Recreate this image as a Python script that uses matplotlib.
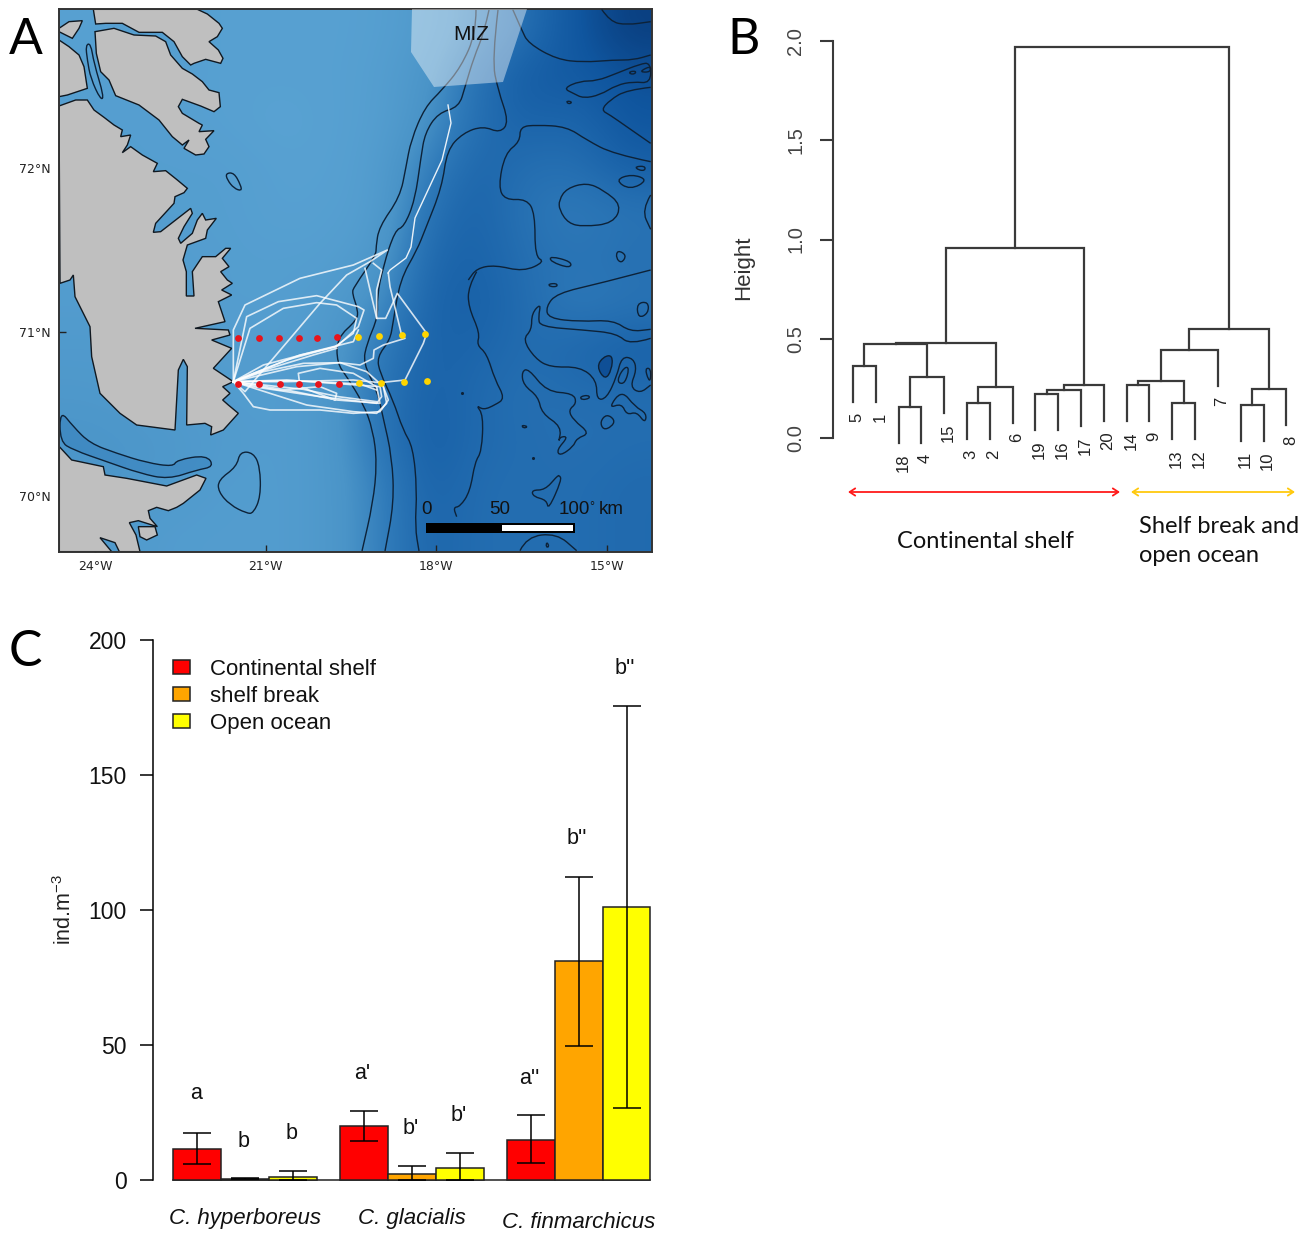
import numpy as np
import matplotlib
matplotlib.use('Agg')
import matplotlib.pyplot as plt
from matplotlib.colors import LinearSegmentedColormap
from matplotlib.patches import Polygon, Rectangle, PathPatch, FancyArrowPatch
from matplotlib.path import Path

W, H = 1315, 1233
plt.rcParams['font.family'] = ['Liberation Sans', 'DejaVu Sans']
plt.rcParams['mathtext.default'] = 'regular'

# ---- panel C values ----
species = ['C. hyperboreus', 'C. glacialis', 'C. finmarchicus']
regions = ['Continental shelf', 'shelf break', 'Open ocean']
region_colors = ['#ff0000', '#ffa500', '#ffff00']
shelf_mean = [11.6, 20.0, 15.0]
shelf_low = [5.9, 14.5, 6.4]
shelf_high = [17.5, 25.6, 23.9]
break_mean = [0.5, 2.3, 81.0]
break_low = [0.3, 0.0, 49.8]
break_high = [0.6, 5.2, 112.4]
ocean_mean = [1.2, 4.6, 101.0]
ocean_low = [0.0, 0.0, 26.6]
ocean_high = [3.3, 10.1, 175.4]
sig_letters = ['a', 'b', 'b', "a'", "b'", "b'", "a''", "b''", "b''"]
sig_heights = [32.0, 14.3, 17.3, 39.3, 19.0, 23.9, 37.7, 126.6, 189.3]

# ---- panel B values: hclust style merge table, negative = leaf ----
leaf_order = [5, 1, 18, 4, 15, 3, 2, 6, 19, 16, 17, 20, 14, 9, 13, 12, 7, 11, 10, 8]
merge_a = [-5, -18, 2, 1, -3, 5, 4, -19, 8, 9, 7, -14, -13, 12, 14, -11, 16, 15, 11]
merge_b = [-1, -4, -15, 3, -2, -6, 6, -16, -17, -20, 10, -9, -12, 13, -7, -10, -8, 17, 18]
merge_h = [0.362, 0.155, 0.306, 0.475, 0.175, 0.259, 0.480, 0.224, 0.244, 0.266,
           0.956, 0.266, 0.175, 0.286, 0.444, 0.168, 0.246, 0.547, 1.968]
leaf_drop = 0.182

# ---- panel A: everything below was read off the map, as (x, y) in a crop ----
# crop origin comes first, crops were looked at 3x
depth_levels = [
    [.08, .10, .10, .08, .08, .08, .10, .20, .40, .62, .85, 1.0],
    [.10, .10, .10, .08, .08, .08, .12, .28, .60, .80, .80, .88],
    [.12, .12, .10, .08, .05, .08, .12, .32, .62, .72, .68, .85],
    [.12, .12, .12, .12, .08, .08, .15, .48, .70, .60, .60, .75],
    [.12, .12, .12, .12, .08, .10, .15, .60, .72, .55, .50, .55],
    [.15, .15, .15, .12, .12, .12, .22, .68, .72, .60, .55, .60],
    [.15, .15, .15, .12, .12, .18, .35, .72, .75, .62, .50, .55],
    [.20, .20, .15, .15, .15, .22, .50, .72, .70, .62, .68, .75],
    [.22, .20, .18, .15, .15, .22, .55, .74, .65, .60, .62, .62],
    [.28, .25, .22, .18, .15, .22, .55, .76, .65, .62, .60, .62],
    [.28, .25, .20, .15, .15, .22, .45, .73, .62, .62, .62, .65],
    [.20, .18, .15, .15, .15, .22, .45, .70, .62, .62, .62, .65],
]

CROP_N = (59, 0)
CROP_SW = (40, 270)
CROP_TRACK = (220, 230)
CROP_NE = (440, 0)
CROP_SE = (440, 270)
ORIGIN = (0, 0)

land_n1 = [(103, 28), (415, 28), (445, 42), (480, 70), (490, 85), (475, 110), (450, 125), (478, 150),
           (492, 175), (485, 190), (440, 178), (405, 190), (395, 195), (370, 170), (345, 125), (310, 97),
           (240, 97), (190, 70), (140, 70), (110, 72)]
land_n2 = [(108, 95), (165, 85), (225, 105), (290, 108), (320, 125), (335, 165), (370, 205), (400, 222),
           (430, 245), (450, 270), (480, 278), (484, 320), (465, 335), (425, 318), (370, 298), (358, 320),
           (370, 340), (420, 370), (430, 375), (420, 395), (465, 392), (440, 418), (450, 440), (435, 462),
           (410, 465), (375, 445), (390, 420), (370, 435), (340, 410), (300, 360), (240, 315), (170, 287),
           (150, 240), (125, 215), (112, 160)]
land_w1 = [(0, 85), (30, 65), (70, 62), (60, 85), (40, 115), (20, 105), (0, 95)]
land_w2 = [(0, 120), (30, 140), (60, 165), (75, 200), (85, 265), (55, 275), (25, 285), (0, 290)]
land_main_a = [(0, 318), (50, 300), (85, 300), (105, 330), (135, 352), (165, 375), (190, 390), (185, 410),
               (215, 405), (205, 435), (190, 458), (215, 440), (250, 465), (295, 490), (283, 515), (320, 512),
               (355, 540), (385, 565), (375, 578), (348, 590), (345, 610), (290, 670), (283, 697), (305, 695),
               (395, 625), (400, 640), (375, 680), (358, 715), (365, 730), (400, 700), (415, 660), (430, 640),
               (440, 660), (472, 655), (445, 690), (440, 715), (385, 735), (372, 780), (382, 815), (382, 888),
               (405, 888), (400, 815), (430, 770), (470, 770), (500, 745), (515, 745), (490, 775), (510, 800),
               (485, 815), (505, 840), (520, 850), (488, 870)]
land_main_b = [(575, 75), (535, 95), (555, 155), (465, 175), (565, 180), (570, 195), (515, 210), (575, 235),
               (520, 295), (580, 335), (548, 350), (570, 370), (548, 390), (565, 405), (595, 430), (550, 480),
               (512, 495), (515, 470), (495, 460), (440, 465), (442, 290), (430, 268), (415, 300), (405, 480),
               (290, 465), (240, 430), (180, 370), (155, 260), (150, 170), (105, 80), (100, 15), (90, 30), (60, 40)]
land_south = [(58, 530), (95, 570), (190, 590), (195, 615), (260, 625), (380, 648), (470, 615), (498, 625),
              (480, 660), (430, 700), (410, 712), (385, 722), (350, 712), (325, 722), (330, 745), (352, 770),
              (295, 752), (268, 758), (288, 795), (300, 845), (238, 845), (225, 818), (180, 803), (215, 845), (58, 845)]
land_south_isle = [(295, 770), (345, 770), (352, 795), (320, 810), (300, 800)]

channel_sw = [(60, 420), (100, 470), (150, 520), (230, 550), (320, 578), (400, 590), (410, 570), (500, 555),
              (522, 590), (470, 600), (385, 628), (300, 610), (200, 575), (100, 540), (60, 515)]
shoal_sw = [(600, 545), (640, 548), (660, 590), (662, 680), (640, 730), (620, 730), (570, 705), (535, 665),
            (535, 630), (590, 590)]
isle_n = [(500, 520), (525, 518), (545, 555), (548, 573), (525, 565), (505, 540)]
isle_channel = [(80, 135), (95, 130), (105, 190), (135, 290), (125, 300), (95, 235), (85, 180)]

# shelf break contours, in plain picture pixels
break_a = [(476, 10), (476, 33), (461, 67), (442, 90), (425, 107), (411, 140), (406, 167), (400, 197), (379, 227),
           (376, 247), (376, 255), (354, 287), (352, 293), (358, 310), (357, 320), (337, 338), (337, 363), (347, 377),
           (363, 403), (373, 430), (377, 463), (373, 503), (362, 551)]
break_b = [(489, 10), (484, 33), (474, 57), (465, 87), (459, 107), (438, 113), (425, 133), (421, 157), (415, 200),
           (404, 227), (395, 230), (383, 267), (377, 297), (378, 317), (367, 343), (363, 363), (377, 390), (383, 417),
           (392, 457), (394, 503), (385, 551)]
break_c = [(498, 10), (492, 60), (498, 90), (509, 122), (500, 133), (483, 126), (463, 133), (447, 150), (442, 187),
           (425, 230), (417, 250), (400, 280), (393, 323), (390, 340), (377, 357), (380, 373), (393, 400), (403, 430),
           (413, 447), (417, 490), (415, 527), (419, 551)]

deep_top = [(218, 28), (245, 90), (265, 130), (350, 178), (430, 187), (520, 180), (580, 180), (632, 165)]
deep_corner = [(485, 28), (510, 65), (560, 75), (632, 65)]
tongue = [(370, 265), (420, 243), (470, 243), (530, 220), (600, 192), (632, 188), (632, 250), (580, 245),
          (530, 255), (480, 285), (430, 295), (400, 280)]
deep_mid = [(632, 262), (560, 270), (510, 300), (483, 330), (510, 345), (560, 380), (632, 430)]
big_n = [(632, 485), (520, 462), (440, 420), (380, 380), (290, 375), (240, 380), (240, 425), (195, 460),
         (175, 560), (195, 600), (260, 597), (285, 640), (285, 770), (315, 785), (250, 815), (165, 795),
         (110, 805), (85, 840)]
oval_ne = [(357, 600), (380, 565), (440, 548), (490, 570), (545, 615), (520, 670), (430, 680), (385, 670), (358, 630)]
blob_ne1 = [(525, 540), (575, 522), (625, 540), (570, 570)]
blob_ne2 = [(585, 500), (615, 498), (615, 512), (595, 510)]
blob_ne3 = [(632, 585), (605, 630), (632, 688)]
blob_ne4 = [(532, 750), (560, 765), (545, 790), (528, 775)]
blob_ne5 = [(330, 768), (395, 785), (390, 805), (332, 785)]
blob_ne6 = [(380, 303), (395, 305), (392, 311), (382, 310)]
blob_ne7 = [(568, 215), (588, 213), (585, 222), (570, 222)]
blob_ne8 = [(603, 212), (632, 198), (632, 215), (608, 217)]

long_se = [(110, 5), (85, 50), (85, 110), (120, 190), (110, 225), (140, 250), (165, 330), (195, 385), (165, 405),
           (130, 420), (108, 405), (130, 435), (125, 545), (105, 575), (90, 665), (60, 710), (40, 712), (50, 740)]
fork_a = [(632, 0), (480, 40), (350, 70), (318, 110), (325, 145), (420, 155), (520, 150), (570, 185), (632, 178)]
fork_b = [(632, 205), (570, 225), (530, 190), (430, 180), (300, 170), (295, 140), (303, 100), (275, 130), (275, 180),
          (248, 208), (285, 265), (330, 292), (420, 290), (470, 330), (470, 390), (500, 385), (530, 320), (545, 260),
          (580, 265), (590, 300), (570, 350), (600, 370), (632, 345)]
deep_hole = [(470, 290), (490, 260), (518, 255), (515, 300), (495, 330)]
ridge_se = [(245, 305), (265, 295), (320, 365), (400, 370), (410, 400), (385, 420), (400, 450), (450, 490), (410, 505),
            (400, 530), (360, 558), (350, 540), (385, 500), (360, 500), (355, 520), (365, 470), (305, 430), (295, 380),
            (250, 345)]
blob_se = [
    [(325, 42), (350, 40), (352, 50), (330, 50)],
    [(245, 465), (265, 470), (250, 475)],
    [(420, 380), (445, 375), (450, 385), (425, 390)],
    [(590, 100), (625, 95), (625, 130), (595, 145)],
    [(615, 295), (632, 295), (632, 330), (625, 330)],
    [(535, 320), (555, 290), (568, 295), (555, 340), (535, 340)],
    [(505, 415), (545, 360), (585, 410), (620, 430), (615, 460), (590, 425), (560, 435), (545, 400)],
    [(480, 455), (500, 432), (525, 450), (515, 470), (490, 480)],
    [(358, 615), (365, 630), (325, 720), (320, 690), (280, 680), (275, 660), (315, 660), (350, 620)],
    [(320, 815), (328, 830), (318, 832)],
]
bottom_se = [(240, 842), (260, 800), (350, 790), (410, 842)]
specks_se = [(67, 368), (278, 565)]

miz_zone = [(412, 9), (411, 52), (434, 87), (503, 82), (527, 9)]

north_track = [(448, 105), (451, 123), (442, 160), (415, 218), (411, 247), (406, 258), (390, 270), (388, 273)]
tracks = [
    [(40, 455), (40, 300), (75, 225), (240, 145), (400, 105), (502, 60), (450, 95), (380, 135), (300, 220), (130, 420), (75, 485), (40, 455)],
    [(40, 455), (80, 260), (175, 215), (290, 197), (415, 230), (432, 240), (415, 290), (350, 350), (240, 375), (100, 430), (40, 455)],
    [(40, 455), (90, 295), (190, 235), (290, 218), (350, 225), (410, 265), (400, 310), (345, 350), (200, 390), (40, 455)],
    [(505, 130), (510, 170), (545, 316), (555, 325), (490, 345), (462, 360), (460, 385), (420, 405), (360, 398), (250, 400), (130, 425), (40, 455)],
    [(435, 115), (470, 265), (497, 265), (532, 190), (620, 310), (610, 340), (555, 450), (480, 458), (400, 450), (200, 455), (40, 455)],
    [(460, 100), (485, 120), (470, 180), (470, 265)],
    [(40, 455), (230, 410), (360, 398), (440, 425), (490, 470), (505, 510), (480, 545), (400, 550), (300, 540), (150, 540), (100, 530), (70, 490), (40, 455)],
    [(40, 455), (180, 480), (300, 470), (350, 490), (345, 510), (240, 470), (235, 430), (300, 415), (400, 430), (470, 470), (480, 520), (350, 510), (200, 480), (40, 455)],
    [(40, 455), (200, 450), (480, 470), (485, 500), (470, 520), (300, 500), (100, 470), (40, 455)],
    [(40, 455), (150, 490), (260, 525), (400, 545), (470, 550), (500, 520), (490, 470)],
    [(40, 455), (130, 405), (300, 360), (400, 335), (415, 300)],
    [(40, 455), (150, 415), (280, 375), (350, 355)],
    [(40, 455), (220, 452), (420, 462), (470, 480)],
    [(40, 455), (250, 478), (355, 500), (470, 515)],
]
stations_shelf = [(55, 323), (116, 325), (178, 324), (236, 323), (290, 323), (352, 322),
                  (53, 462), (116, 463), (180, 463), (238, 463), (293, 462), (356, 461)]
stations_ocean = [(415, 321), (477, 319), (545, 316), (614, 313),
                  (418, 460), (482, 458), (551, 455), (620, 452)]


def px_lon(x):
    return -24 + (np.asarray(x, float) - 95) / 56.9


def px_lat(y):
    return 72 - (np.asarray(y, float) - 168) / 164


def crop_pts(origin, pts, scale=3.0):
    pts = np.asarray(pts, float)
    return np.column_stack([px_lon(origin[0] + pts[:, 0] / scale), px_lat(origin[1] + pts[:, 1] / scale)])


def add_axes_px(left, top, right, bottom):
    return fig.add_axes([left / W, 1 - bottom / H, (right - left) / W, (bottom - top) / H])


def curved(pts, closed=False):
    # read points become the control points of a quadratic path
    mids = (pts + np.roll(pts, -1, axis=0)) / 2
    if closed:
        verts, codes = [mids[-1]], [Path.MOVETO]
        for p, m in zip(pts, mids):
            verts += [p, m]
            codes += [Path.CURVE3, Path.CURVE3]
    else:
        verts, codes = [pts[0]], [Path.MOVETO]
        for p, m in zip(pts[1:-1], mids[1:-1]):
            verts += [p, m]
            codes += [Path.CURVE3, Path.CURVE3]
        verts.append(pts[-1])
        codes.append(Path.LINETO)
    return Path(verts, codes)


fig = plt.figure(figsize=(W / 100, H / 100), dpi=100)

# ---- A: map ----
ax = add_axes_px(59, 9, 652, 552)
west, east = px_lon(59), px_lon(652)
south, north = px_lat(552), px_lat(9)
sea = LinearSegmentedColormap.from_list('sea', [(0, '#5ca5d5'), (.3, '#4a94c8'), (.5, '#2f7ab9'),
                                                (.7, '#1c65ab'), (.85, '#10569f'), (1, '#0a3f80')])
ax.imshow(depth_levels, cmap=sea, vmin=0, vmax=1, extent=[west, east, south, north], aspect='auto',
          interpolation='bicubic', zorder=0)

contour_color = '#0d2238'
ax.add_patch(PathPatch(curved(crop_pts(CROP_SW, channel_sw), True), fc='#2f7ab9', ec='none', alpha=.4, zorder=1))
ax.add_patch(PathPatch(curved(crop_pts(CROP_SW, channel_sw), True), fc='none', ec=contour_color, lw=1, zorder=1))

land_polys = [crop_pts(CROP_N, land_n1), crop_pts(CROP_N, land_n2), crop_pts(CROP_N, land_w1), crop_pts(CROP_N, land_w2),
              np.vstack([crop_pts(CROP_N, land_main_a), crop_pts(CROP_SW, land_main_b)]),
              crop_pts(CROP_SW, land_south), crop_pts(CROP_SW, land_south_isle)]
for poly in land_polys:
    ax.add_patch(Polygon(poly, closed=True, fc='#bfbfbf', ec='#101820', lw=1, zorder=2))

closed_lines = [crop_pts(CROP_SW, shoal_sw), crop_pts(CROP_N, isle_n), crop_pts(CROP_N, isle_channel)]
for b in [oval_ne, blob_ne1, blob_ne2, blob_ne4, blob_ne5, blob_ne6, blob_ne7, blob_ne8, tongue]:
    closed_lines.append(crop_pts(CROP_NE, b))
for b in blob_se + [ridge_se]:
    closed_lines.append(crop_pts(CROP_SE, b))
for poly in closed_lines:
    ax.add_patch(PathPatch(curved(poly, True), fc='none', ec=contour_color, lw=1, zorder=3))
ax.add_patch(PathPatch(curved(crop_pts(CROP_SE, deep_hole), True), fc='#0f4f96', ec=contour_color, lw=1, zorder=3))

open_lines = [crop_pts(ORIGIN, break_a, 1), crop_pts(ORIGIN, break_b, 1), crop_pts(ORIGIN, break_c, 1)]
for b in [deep_top, deep_corner, deep_mid, big_n, blob_ne3]:
    open_lines.append(crop_pts(CROP_NE, b))
for b in [long_se, fork_a, fork_b, bottom_se]:
    open_lines.append(crop_pts(CROP_SE, b))
for line in open_lines:
    ax.add_patch(PathPatch(curved(line), fc='none', ec=contour_color, lw=1, zorder=3))
pts = crop_pts(CROP_SE, specks_se)
ax.scatter(pts[:, 0], pts[:, 1], s=5, color=contour_color, lw=0, zorder=3)

ax.add_patch(Polygon(crop_pts(ORIGIN, miz_zone, 1), closed=True, fc='white', ec='none', alpha=.42, zorder=4))

line = crop_pts(ORIGIN, north_track, 1)
ax.plot(line[:, 0], line[:, 1], color='white', lw=1, alpha=.9, zorder=5)
for tr in tracks:
    line = crop_pts(CROP_TRACK, tr)
    ax.plot(line[:, 0], line[:, 1], color='white', lw=1.2, alpha=.8, zorder=5, solid_joinstyle='round')

pts = crop_pts(CROP_TRACK, stations_shelf)
ax.scatter(pts[:, 0], pts[:, 1], s=24, color='#e8141c', lw=0, zorder=6)
pts = crop_pts(CROP_TRACK, stations_ocean)
ax.scatter(pts[:, 0], pts[:, 1], s=24, color='#ffd500', lw=0, zorder=6)

# scale bar
bar = crop_pts(ORIGIN, [(426, 533), (575, 523)], 1)
ax.add_patch(Rectangle(bar[0], bar[1, 0] - bar[0, 0], bar[1, 1] - bar[0, 1], fc='black', ec='none', zorder=7))
bar = crop_pts(ORIGIN, [(502, 531), (573, 525)], 1)
ax.add_patch(Rectangle(bar[0], bar[1, 0] - bar[0, 0], bar[1, 1] - bar[0, 1], fc='white', ec='none', zorder=7))
for label, x in zip(['0', '50', '100', 'km'], [426, 500, 574, 611]):
    ax.text(px_lon(x), px_lat(509), label, ha='center', va='center', fontsize=13.5, color='#111', zorder=7)
ax.text(px_lon(592), px_lat(507), '°', ha='center', va='center', fontsize=9, color='#111', zorder=7)
ax.text(px_lon(471), px_lat(34), 'MIZ', ha='center', va='center', fontsize=15, color='#111', zorder=7)

ax.set_xlim(west, east)
ax.set_ylim(south, north)
ax.set_xticks([-24, -21, -18, -15])
ax.set_xticklabels(['24°W', '21°W', '18°W', '15°W'])
ax.set_yticks([70, 71, 72])
ax.set_yticklabels(['70°N', '71°N', '72°N'])
ax.tick_params(direction='in', length=5, width=1, color='#222', labelsize=9, labelcolor='#222', pad=6)
for lab in ax.get_xticklabels() + ax.get_yticklabels():
    lab.set_family('DejaVu Sans')
for s in ax.spines.values():
    s.set_linewidth(1.4)
    s.set_color('#333333')

# ---- B: dendrogram ----
ax = add_axes_px(833, 41, 1300, 438)
ax.set_xlim(1 - 20 / 22.8, 20.6)
ax.set_ylim(0, 2)
tree_color = '#3a3a3a'
leaf_pos = {leaf: i + 1 for i, leaf in enumerate(leaf_order)}
node_x = {}


def child_pos(child, h):
    if child < 0:
        x = leaf_pos[-child]
        y0 = h - leaf_drop
        ax.annotate(str(-child), (x, y0), xytext=(3, -7.5), textcoords='offset points', rotation=90,
                    ha='center', va='top', fontsize=12, color='#222', annotation_clip=False)
    else:
        x, y0 = node_x[child]
    return x, y0


for i, (a, b, h) in enumerate(zip(merge_a, merge_b, merge_h)):
    xa, ya = child_pos(a, h)
    xb, yb = child_pos(b, h)
    ax.plot([xa, xa, xb, xb], [ya, h, h, yb], color=tree_color, lw=1.6, clip_on=False, solid_joinstyle='miter')
    node_x[i + 1] = ((xa + xb) / 2, h)

for s in ['top', 'right', 'bottom']:
    ax.spines[s].set_visible(False)
ax.spines['left'].set_linewidth(1.5)
ax.spines['left'].set_color(tree_color)
ax.set_xticks([])
ax.set_yticks([0, .5, 1, 1.5, 2])
ax.set_yticklabels(['0.0', '0.5', '1.0', '1.5', '2.0'], rotation=90, va='center', fontsize=14.5, color='#444')
ax.tick_params(axis='y', length=9.5, width=1.5, color=tree_color, pad=10.5)

fig.text(744 / W, 1 - 268 / H, 'Height', rotation=90, ha='center', va='center', fontsize=16, color='#333')


def arrow_fig(x0, x1, y, color):
    fig.add_artist(FancyArrowPatch((x0 / W, 1 - y / H), (x1 / W, 1 - y / H),
                   transform=fig.transFigure, arrowstyle='<->,head_length=4,head_width=2.6', color=color,
                   lw=1.3, shrinkA=0, shrinkB=0))


arrow_fig(848, 1120, 492, '#ff1a1a')
arrow_fig(1131, 1295, 492, '#ffc90e')
fig.text(985 / W, 1 - 541.5 / H, 'Continental shelf', ha='center', va='center', fontsize=17, family='Lato', color='#111')
fig.text(1139 / W, 1 - 526 / H, 'Shelf break and', ha='left', va='center', fontsize=17, family='Lato', color='#111')
fig.text(1139 / W, 1 - 556 / H, 'open ocean', ha='left', va='center', fontsize=17, family='Lato', color='#111')

# ---- C: bars ----
ax = add_axes_px(153, 640, 653, 1180)
ax.set_xlim(-20.4 / 47.9, (653 - 173.4) / 47.9)
ax.set_ylim(0, 200)
group_starts = [0, 3.48, 6.96]
series = [(shelf_mean, shelf_low, shelf_high), (break_mean, break_low, break_high), (ocean_mean, ocean_low, ocean_high)]
bar_x = []
for g in group_starts:
    bar_x += [g + .5, g + 1.5, g + 2.5]
for k, (mean, low, high) in enumerate(series):
    xs = [g + k + .5 for g in group_starts]
    ax.bar(xs, mean, width=1, color=region_colors[k], edgecolor='#222222', lw=1.1, label=regions[k], clip_on=False, zorder=2)
    yerr = [np.array(mean) - np.array(low), np.array(high) - np.array(mean)]
    ax.errorbar(xs, mean, yerr=yerr, fmt='none', ecolor='black', elinewidth=1.1, capsize=9.8, capthick=1.1, clip_on=False, zorder=3)
ax.plot([0, bar_x[-1] + .5], [0, 0], color='#222222', lw=1.1, clip_on=False, zorder=1)
for x, s, h in zip(bar_x, sig_letters, sig_heights):
    ax.text(x - .03, h, s, ha='center', va='center', fontsize=15.5, color='#111')
for sp, g, y in zip(species, group_starts, [-14.2, -14.2, -15.8]):
    ax.text(g + 1.5, y, sp, ha='center', va='center', fontsize=16, style='italic', color='#111', clip_on=False)
for s in ['top', 'right', 'bottom']:
    ax.spines[s].set_visible(False)
ax.spines['left'].set_linewidth(1.1)
ax.set_xticks([])
ax.set_yticks([0, 50, 100, 150, 200])
ax.tick_params(axis='y', length=9.5, width=1.1, labelsize=16.5, pad=9.5, labelcolor='#111')
ax.legend(loc='upper left', bbox_to_anchor=(0.04, 0.965), frameon=False, fontsize=16, handlelength=.77, handleheight=.63,
          handletextpad=.9, labelspacing=.27, borderaxespad=0, borderpad=0, labelcolor='#111')
fig.text(65 / W, 1 - 909 / H, 'ind.m$^{-3}$', rotation=90, ha='center', va='center', fontsize=15.5, color='#222')

# panel letters
for letter, x, y in [('A', 26, 40), ('B', 744, 40), ('C', 25, 652)]:
    fig.text(x / W, 1 - y / H, letter, ha='center', va='center', fontsize=36, family='Lato', color='black')

fig.savefig('out.png', dpi=100)
